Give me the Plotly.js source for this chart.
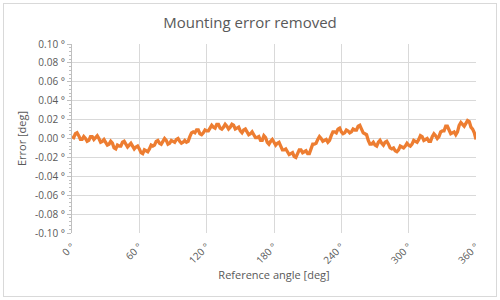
<!DOCTYPE html>
<html>
<head>
<meta charset="utf-8">
<script src="https://cdn.plot.ly/plotly-3.0.1.min.js"></script>
<style>
  html, body { margin: 0; padding: 0; background: #fff; }
  #wrap { position: relative; width: 500px; height: 300px; }
  #chart { width: 500px; height: 300px; }
  #frame { position: absolute; left: 3px; top: 3px; width: 492px; height: 292px; border: 1px solid #d9d9d9; pointer-events: none; }
</style>
</head>
<body>
<div id="wrap"><div id="chart"></div><div id="frame"></div></div>
<script>
const angles = [0,1.5,3,4.5,6,7.5,9,10.5,12,13.5,15,16.5,18,19.5,21,22.5,24,25.5,27,28.5,30,31.5,33,34.5,36,37.5,39,40.5,42,43.5,45,46.5,48,49.5,51,52.5,54,55.5,57,58.5,60,61.5,63,64.5,66,67.5,69,70.5,72,73.5,75,76.5,78,79.5,81,82.5,84,85.5,87,88.5,90,91.5,93,94.5,96,97.5,99,100.5,102,103.5,105,106.5,108,109.5,111,112.5,114,115.5,117,118.5,120,121.5,123,124.5,126,127.5,129,130.5,132,133.5,135,136.5,138,139.5,141,142.5,144,145.5,147,148.5,150,151.5,153,154.5,156,157.5,159,160.5,162,163.5,165,166.5,168,169.5,171,172.5,174,175.5,177,178.5,180,181.5,183,184.5,186,187.5,189,190.5,192,193.5,195,196.5,198,199.5,201,202.5,204,205.5,207,208.5,210,211.5,213,214.5,216,217.5,219,220.5,222,223.5,225,226.5,228,229.5,231,232.5,234,235.5,237,238.5,240,241.5,243,244.5,246,247.5,249,250.5,252,253.5,255,256.5,258,259.5,261,262.5,264,265.5,267,268.5,270,271.5,273,274.5,276,277.5,279,280.5,282,283.5,285,286.5,288,289.5,291,292.5,294,295.5,297,298.5,300,301.5,303,304.5,306,307.5,309,310.5,312,313.5,315,316.5,318,319.5,321,322.5,324,325.5,327,328.5,330,331.5,333,334.5,336,337.5,339,340.5,342,343.5,345,346.5,348,349.5,351,352.5,354,355.5,357,358.5,360];
const errors = [0.002,0.001,0.005,0.006,0.003,-0.001,-0.001,0.002,0.000,-0.003,-0.002,0.002,0.002,-0.001,0.001,0.003,0.000,-0.004,-0.003,-0.001,-0.004,-0.007,-0.006,-0.003,-0.005,-0.010,-0.011,-0.007,-0.008,-0.008,-0.004,-0.003,-0.006,-0.009,-0.007,-0.005,-0.008,-0.011,-0.009,-0.008,-0.011,-0.015,-0.016,-0.012,-0.013,-0.014,-0.011,-0.007,-0.008,-0.007,-0.003,-0.002,-0.005,-0.006,-0.003,0.000,-0.002,-0.006,-0.005,-0.002,-0.003,-0.004,-0.001,0.000,-0.003,-0.005,-0.004,-0.002,-0.004,-0.003,0.002,0.006,0.007,0.006,0.009,0.009,0.005,0.004,0.006,0.009,0.008,0.008,0.011,0.014,0.012,0.011,0.015,0.015,0.011,0.010,0.012,0.015,0.013,0.010,0.012,0.015,0.014,0.010,0.011,0.012,0.008,0.006,0.009,0.010,0.007,0.004,0.005,0.007,0.004,0.001,0.001,0.002,-0.002,-0.002,0.003,0.001,-0.004,-0.006,-0.003,-0.001,-0.004,-0.007,-0.005,-0.004,-0.008,-0.012,-0.012,-0.011,-0.014,-0.017,-0.016,-0.015,-0.019,-0.020,-0.016,-0.012,-0.012,-0.015,-0.014,-0.013,-0.016,-0.016,-0.011,-0.006,-0.006,-0.005,-0.001,0.002,0.000,-0.003,-0.002,-0.001,-0.004,-0.002,0.003,0.007,0.007,0.006,0.010,0.011,0.007,0.005,0.006,0.009,0.008,0.006,0.007,0.010,0.009,0.009,0.013,0.014,0.010,0.006,0.005,0.004,-0.002,-0.006,-0.006,-0.004,-0.007,-0.008,-0.004,-0.002,-0.005,-0.007,-0.004,-0.003,-0.006,-0.010,-0.011,-0.010,-0.013,-0.014,-0.012,-0.008,-0.009,-0.010,-0.008,-0.005,-0.007,-0.008,-0.006,-0.002,-0.003,-0.004,-0.001,0.003,0.002,-0.002,-0.001,0.000,-0.003,-0.003,0.002,0.005,0.003,0.000,0.002,0.007,0.008,0.008,0.013,0.013,0.009,0.005,0.006,0.007,0.004,0.007,0.014,0.017,0.015,0.013,0.016,0.019,0.018,0.012,0.010,0.006,-0.001];
const xTickVals = [0,60,120,180,240,300,360];
const xTickText = ["0 °","60 °","120 °","180 °","240 °","300 °","360 °"];
const yTickVals = [0.10,0.08,0.06,0.04,0.02,0.00,-0.02,-0.04,-0.06,-0.08,-0.10];
const yTickText = ["0.10 °","0.08 °","0.06 °","0.04 °","0.02 °","0.00 °","-0.02 °","-0.04 °","-0.06 °","-0.08 °","-0.10 °"];

const fontFam = "Open Sans, Noto Sans, sans-serif";
const textCol = "#595959";

Plotly.newPlot("chart", [{
  x: angles, y: errors, type: "scatter", mode: "lines",
  line: {color: "#ED7D31", width: 3.3, simplify: false},
  hoverinfo: "skip"
}], {
  width: 500, height: 300,
  margin: {l: 72, r: 24, t: 44, b: 67},
  paper_bgcolor: "#fff", plot_bgcolor: "#fff",
  showlegend: false,
  title: {text: "Mounting error removed", x: 0.5, xanchor: "center", y: 0.925, yanchor: "middle",
          font: {family: fontFam, size: 15, color: textCol}},
  xaxis: {
    range: [0, 360], tickvals: xTickVals, ticktext: xTickText, tickangle: -45,
    showgrid: true, gridcolor: "#d9d9d9", gridwidth: 1, zeroline: false,
    showline: false, ticks: "", ticklabelstandoff: 5,
    tickfont: {family: fontFam, size: 10, color: textCol},
    title: {text: "Reference angle [deg]", standoff: 5, font: {family: fontFam, size: 11, color: textCol}}
  },
  yaxis: {
    range: [-0.10, 0.10], tickvals: yTickVals, ticktext: yTickText,
    showgrid: true, gridcolor: "#d9d9d9", gridwidth: 1, zeroline: false,
    showline: true, linecolor: "#bfbfbf", linewidth: 1,
    ticks: "outside", ticklen: 4, tickcolor: "#bfbfbf",
    minor: {ticks: "outside", ticklen: 2, dtick: 0.004, tickcolor: "#bfbfbf", showgrid: false},
    tickfont: {family: fontFam, size: 10, color: textCol},
    title: {text: "Error [deg]", standoff: 6, font: {family: fontFam, size: 11, color: textCol}}
  }
}, {staticPlot: true});
</script>
</body>
</html>
